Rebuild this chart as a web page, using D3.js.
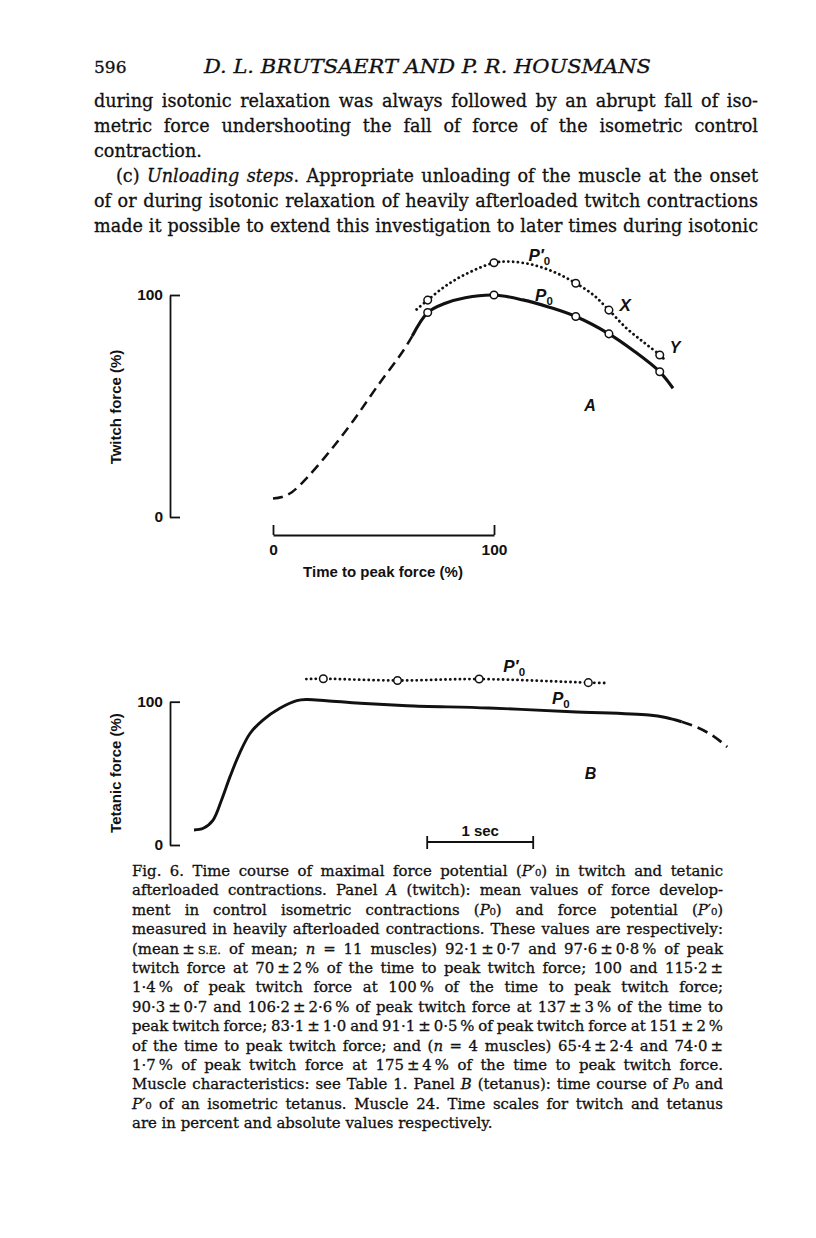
<!DOCTYPE html>
<html><head><meta charset="utf-8">
<script src="https://cdn.jsdelivr.net/npm/d3@7"></script>
<style>
body{margin:0;background:#fff}
svg{display:block}
</style></head><body>
<script>
// ================= DATA =================
const headerPage = "596";
const headerAuthors = "D. L. BRUTSAERT AND P. R. HOUSMANS";

// body text (markup: *italic*, ^small caps^)
const bodyLines = [
  "during isotonic relaxation was always followed by an abrupt fall of iso-",
  "metric force undershooting the fall of force of the isometric control",
  "contraction.",
  "(c) *Unloading steps*. Appropriate unloading of the muscle at the onset",
  "of or during isotonic relaxation of heavily afterloaded twitch contractions",
  "made it possible to extend this investigation to later times during isotonic"
];
const bodyJustify = [true, true, false, true, true, true];

const captionLines = [
  "Fig. 6. Time course of maximal force potential (*P*′₀) in twitch and tetanic",
  "afterloaded contractions. Panel *A* (twitch): mean values of force develop-",
  "ment in control isometric contractions (*P*₀) and force potential (*P*′₀)",
  "measured in heavily afterloaded contractions. These values are respectively:",
  "(mean\u2009±\u2009^S.E.^ of mean; *n* = 11 muscles) 92·1\u2009±\u20090·7 and 97·6\u2009±\u20090·8\u2009% of peak",
  "twitch force at 70\u2009±\u20092\u2009% of the time to peak twitch force; 100 and 115·2\u2009±",
  "1·4\u2009% of peak twitch force at 100\u2009% of the time to peak twitch force;",
  "90·3\u2009±\u20090·7 and 106·2\u2009±\u20092·6\u2009% of peak twitch force at 137\u2009±\u20093\u2009% of the time to",
  "peak twitch force; 83·1\u2009±\u20091·0 and 91·1\u2009±\u20090·5\u2009% of peak twitch force at 151\u2009±\u20092\u2009%",
  "of the time to peak twitch force; and (*n* = 4 muscles) 65·4\u2009±\u20092·4 and 74·0\u2009±",
  "1·7\u2009% of peak twitch force at 175\u2009±\u20094\u2009% of the time to peak twitch force.",
  "Muscle characteristics: see Table 1. Panel *B* (tetanus): time course of *P*₀ and",
  "*P*′₀ of an isometric tetanus. Muscle 24. Time scales for twitch and tetanus",
  "are in percent and absolute values respectively."
];

// Panel A (twitch): [time to peak force %, twitch force %]
const twitchTicksY = [0, 100];
const twitchTicksX = [0, 100];
const twitchP0Dashed = [[0,8.3],[4,9],[8.7,11.3],[15.7,18],[26,30],[36.5,43.6],[47,58.6],[59,75],[63,81.5]];
const twitchP0Solid  = [[63,81.5],[70,92.1],[78,96.3],[87,98.8],[100,100],[113,97.8],[125,94.5],[137,90.3],[152,82.5],[163,75],[175,65.4],[181,58]];
const twitchP0Points = [[70,92.1],[100,100],[137,90.3],[152,82.5],[175,65.4]];
const twitchP0PrimeDotted = [[65,93.5],[70,97.7],[78,104],[87,109.3],[100,114.5],[108,115],[118,113.5],[128,110],[137,105.3],[145,100],[152,93.2],[160,85],[168,78.5],[175,73],[178,70]];
const twitchP0PrimePoints = [[70,97.7],[100,114.5],[137,105.3],[152,93.2],[175,73]];

// Panel B (tetanus): [time s, tetanic force %]
const tetanicTicksY = [0, 100];
const tetanicP0Solid = [[0,10.5],[0.088,11.7],[0.18,17.4],[0.26,31.4],[0.34,47.7],[0.43,64],[0.53,78],[0.65,87.2],[0.81,95.4],[0.97,100.7],[1.06,101.5],[1.25,100.7],[1.57,98.9],[2.01,97.2],[2.78,95.6],[3.56,93],[4.29,90.7],[4.45,89],[4.6,86]];
const tetanicP0Dashed = [[4.6,86],[4.75,82],[4.9,76],[5.03,68.4]];
const tetanicP0PrimeDotted = [[1.06,115.8],[1.22,116],[1.92,114.8],[2.69,115.8],[3.72,113.3],[3.91,113]];
const tetanicP0PrimePoints = [[1.22,116],[1.92,114.8],[2.69,115.8],[3.72,113.3]];
const scaleBarSec = [2.2, 3.2];

// ================= DRAW =================
const W = 816, H = 1238;
const INK = "#111";
const SERIF = "'DejaVu Serif','Liberation Serif',serif";
const SANS = "'Liberation Sans',Arial,sans-serif";

const svg = d3.select("body").append("svg").attr("width", W).attr("height", H);
svg.append("rect").attr("width", W).attr("height", H).attr("fill", "#fff");

// ---- rich text helpers ----
function parseRich(str) {
  const out = []; let it = false, sc = false;
  for (const ch of str) {
    if (ch === "*") { it = !it; continue; }
    if (ch === "^") { sc = !sc; continue; }
    out.push({c: ch, it, sc});
  }
  return out;
}
function splitWords(chars) {
  const ws = []; let cur = [];
  chars.forEach(c => { if (c.c === " ") { if (cur.length) ws.push(cur); cur = []; } else cur.push(c); });
  if (cur.length) ws.push(cur);
  return ws;
}
function runsOf(word) {
  const rs = [];
  word.forEach(c => {
    const last = rs[rs.length - 1];
    if (last && last.it === c.it && last.sc === c.sc) last.t += c.c;
    else rs.push({t: c.c, it: c.it, sc: c.sc});
  });
  return rs;
}
function drawLine(parent, str, x0, x1, y, size, justify) {
  const g = parent.append("g");
  const ws = splitWords(parseRich(str));
  const nodes = ws.map(w => {
    const t = g.append("text").attr("y", y)
      .style("font-family", SERIF).style("font-size", size + "px")
      .attr("fill", INK).attr("stroke", INK).attr("stroke-width", 0.3);
    runsOf(w).forEach(r => {
      const sp = t.append("tspan").text(r.t);
      if (r.it) sp.style("font-style", "italic");
      if (r.sc) sp.style("font-size", (size * 0.78) + "px");
    });
    return t;
  });
  const widths = nodes.map(n => n.node().getComputedTextLength());
  const total = d3.sum(widths);
  const natGap = size * 0.32, minGap = size * 0.2;
  let gap = natGap, f = 1;
  if (justify && ws.length > 1) {
    gap = (x1 - x0 - total) / (ws.length - 1);
    if (gap < minGap) { gap = minGap; f = (x1 - x0) / (total + minGap * (ws.length - 1)); }
  }
  let x = 0;
  nodes.forEach((n, i) => { n.attr("x", x); x += widths[i] + gap; });
  g.attr("transform", `translate(${x0},0) scale(${f},1)`);
}

// ---- header ----
svg.append("text").attr("x", 94).attr("y", 73).text(headerPage)
  .style("font-family", SERIF).style("font-size", "17px").attr("fill", INK).attr("stroke", INK).attr("stroke-width", 0.3);
svg.append("text").attr("x", 204).attr("y", 73).text(headerAuthors)
  .attr("textLength", 447).attr("lengthAdjust", "spacingAndGlyphs")
  .style("font-family", SERIF).style("font-size", "18px").style("font-style", "italic")
  .attr("fill", INK).attr("stroke", INK).attr("stroke-width", 0.3);

// ---- body ----
const body = svg.append("g");
bodyLines.forEach((l, i) => drawLine(body, l, i === 3 ? 116 : 94, 758, 107 + 25 * i, 17.6, bodyJustify[i]));

// ---- caption ----
const cap = svg.append("g");
captionLines.forEach((l, i) => drawLine(cap, l, 132, 723, 876 + 19.4 * i, 14.9, i < captionLines.length - 1));

// ---- chart helpers ----
function styleAxis(g) {
  g.select(".domain").attr("stroke", INK).attr("stroke-width", 1.8);
  g.selectAll(".tick line").attr("stroke", INK).attr("stroke-width", 1.8);
  g.selectAll(".tick text").attr("fill", INK)
    .style("font-family", SANS).style("font-size", "15.5px").style("font-weight", "bold");
}
function pLabel(parent, x, y, prime) {
  const t = parent.append("text").attr("x", x).attr("y", y).attr("text-anchor", "middle")
    .style("font-family", SANS).style("font-size", "17px").style("font-weight", "bold").attr("fill", INK);
  t.append("tspan").text(prime ? "P′" : "P").style("font-style", "italic");
  t.append("tspan").text("0").style("font-size", "11.5px").attr("dy", 4);
}
function plainLabel(parent, x, y, txt, italic, size) {
  parent.append("text").attr("x", x).attr("y", y).attr("text-anchor", "middle").text(txt)
    .style("font-family", SANS).style("font-size", (size || 15) + "px").style("font-weight", "bold")
    .style("font-style", italic ? "italic" : "normal").attr("fill", INK);
}
function yTitle(parent, x, y, txt) {
  parent.append("text").attr("transform", `translate(${x},${y}) rotate(-90)`).attr("text-anchor", "middle")
    .text(txt).style("font-family", SANS).style("font-size", "15px").style("font-weight", "bold").attr("fill", INK);
}
function circles(parent, pts, xs, ys) {
  parent.selectAll(null).data(pts).join("circle")
    .attr("cx", d => xs(d[0])).attr("cy", d => ys(d[1])).attr("r", 3.8)
    .attr("fill", "#fff").attr("stroke", INK).attr("stroke-width", 1.5);
}
const DOTS = "0.1,4.7";

// ================= PANEL A =================
const xA = d3.scaleLinear().domain([0, 100]).range([273, 494]);
const yA = d3.scaleLinear().domain([0, 100]).range([517, 295]);
const lineA = d3.line().x(d => xA(d[0])).y(d => yA(d[1])).curve(d3.curveCatmullRom.alpha(0.5));
const gA = svg.append("g");

gA.append("g").attr("transform", "translate(170,0)")
  .call(d3.axisLeft(yA).tickValues(twitchTicksY).tickSizeInner(-10).tickSizeOuter(0).tickPadding(7))
  .call(styleAxis);
gA.append("g").attr("transform", "translate(0,535)")
  .call(d3.axisBottom(xA).tickValues(twitchTicksX).tickSizeInner(-10).tickSizeOuter(0).tickPadding(9))
  .call(styleAxis);
yTitle(gA, 121, 407, "Twitch force (%)");
plainLabel(gA, 383, 577, "Time to peak force (%)");

gA.append("path").attr("d", lineA(twitchP0PrimeDotted)).attr("fill", "none").attr("stroke", INK)
  .attr("stroke-width", 2.8).attr("stroke-linecap", "round").attr("stroke-dasharray", DOTS);
gA.append("path").attr("d", lineA(twitchP0Dashed)).attr("fill", "none").attr("stroke", INK)
  .attr("stroke-width", 2.5).attr("stroke-dasharray", "10,6");
gA.append("path").attr("d", lineA(twitchP0Solid)).attr("fill", "none").attr("stroke", INK)
  .attr("stroke-width", 3.1);
circles(gA, twitchP0PrimePoints, xA, yA);
circles(gA, twitchP0Points, xA, yA);

pLabel(gA, xA(120.5), yA(117.3) + 4, true);
pLabel(gA, xA(122.6), yA(99.2) + 4, false);
plainLabel(gA, xA(159.3), yA(95.3) + 6, "X", true, 17);
plainLabel(gA, xA(181.9), yA(76.7) + 6, "Y", true, 16);
plainLabel(gA, xA(143.4), yA(50.5) + 6, "A", true, 16);

// ================= PANEL B =================
const xB = d3.scaleLinear().domain([0, 1]).range([194, 300]);
const yB = d3.scaleLinear().domain([0, 100]).range([845, 701.7]);
const lineB = d3.line().x(d => xB(d[0])).y(d => yB(d[1])).curve(d3.curveCatmullRom.alpha(0.5));
const gB = svg.append("g");

gB.append("g").attr("transform", "translate(170,0)")
  .call(d3.axisLeft(yB).tickValues(tetanicTicksY).tickSizeInner(-10).tickSizeOuter(0).tickPadding(7))
  .call(styleAxis);
yTitle(gB, 121, 773, "Tetanic force (%)");

gB.append("path").attr("d", lineB(tetanicP0PrimeDotted)).attr("fill", "none").attr("stroke", INK)
  .attr("stroke-width", 2.8).attr("stroke-linecap", "round").attr("stroke-dasharray", DOTS);
gB.append("path").attr("d", lineB(tetanicP0Solid)).attr("fill", "none").attr("stroke", INK)
  .attr("stroke-width", 2.9);
gB.append("path").attr("d", lineB(tetanicP0Dashed)).attr("fill", "none").attr("stroke", INK)
  .attr("stroke-width", 2.7).attr("stroke-dasharray", "11,6");
circles(gB, tetanicP0PrimePoints, xB, yB);

pLabel(gB, xB(3.02), yB(123.3) + 4, true);
pLabel(gB, xB(3.46), yB(101.2) + 4, false);
plainLabel(gB, xB(3.74), yB(50.2) + 6, "B", true, 16);

// 1 sec scale bar
const barY = 842;
const bar = gB.append("g");
bar.append("line").attr("x1", xB(scaleBarSec[0])).attr("x2", xB(scaleBarSec[1]))
  .attr("y1", barY).attr("y2", barY).attr("stroke", INK).attr("stroke-width", 1.8);
bar.selectAll(null).data(scaleBarSec).join("line")
  .attr("x1", d => xB(d)).attr("x2", d => xB(d)).attr("y1", barY - 6).attr("y2", barY + 7)
  .attr("stroke", INK).attr("stroke-width", 1.8);
plainLabel(bar, xB(d3.mean(scaleBarSec)), barY - 6, "1 sec", false, 15);
</script>
</body></html>
